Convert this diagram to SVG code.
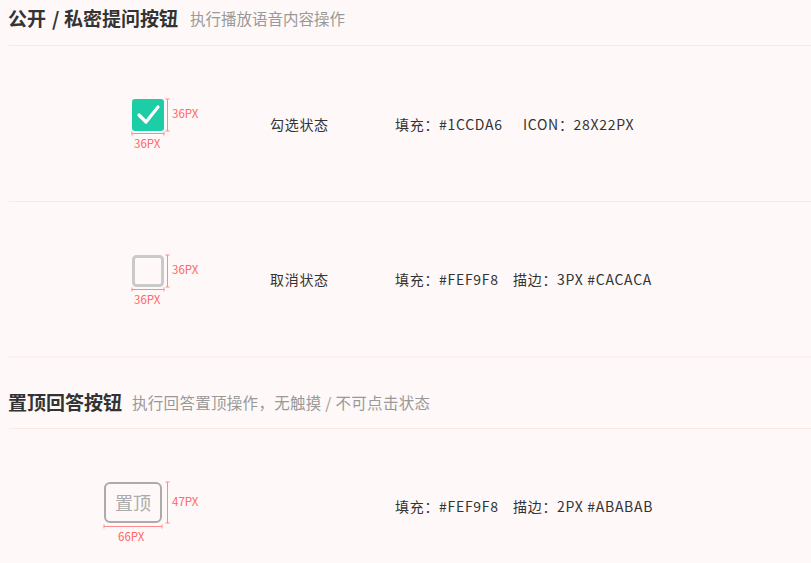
<svg xmlns="http://www.w3.org/2000/svg" width="811" height="563" viewBox="0 0 811 563">
<style>
text{font-family:"Noto Sans CJK SC","Noto Sans",sans-serif}
.title{font-size:19px;font-weight:bold;fill:#333}
.sub{font-size:15.5px;fill:#999}
.lbl{font-size:14px;fill:#333;letter-spacing:0.7px}
.dimt{font-size:11.5px;fill:#FF6666}
.sep{stroke:#FBE8E5;stroke-width:1.2}
.dim{stroke:#FF8A8A;stroke-width:1;fill:none}
</style>
<rect width="811" height="563" fill="#FEF9F8"/>
<g id="separators">
<line class="sep" x1="9" y1="45.5" x2="811" y2="45.5"/>
<line class="sep" x1="9" y1="201.5" x2="811" y2="201.5"/>
<line class="sep" x1="9" y1="357" x2="811" y2="357"/>
<line class="sep" x1="9" y1="428.5" x2="811" y2="428.5"/>
</g>
<g id="heading1">
<text class="title" y="26"><tspan x="8">公开</tspan><tspan x="52">/</tspan><tspan x="64">私密提问按钮</tspan></text>
<text class="sub" x="190" y="25">执行播放语音内容操作</text>
</g>
<g id="checked">
<rect x="132" y="99" width="32" height="32" rx="3" fill="#1CCDA6"/>
<polyline points="139,115 146,122 158,107" fill="none" stroke="#fff" stroke-width="3.2" stroke-linecap="round" stroke-linejoin="round"/>
<text class="lbl" x="270" y="130">勾选状态</text>
<text class="lbl" y="130"><tspan x="395">填充：#1CCDA6</tspan><tspan x="523">ICON：28X22PX</tspan></text>
</g>
<g id="unchecked">
<rect x="133.5" y="256.5" width="29" height="29" rx="3" fill="#FEF9F8" stroke="#CACACA" stroke-width="3"/>
<text class="lbl" x="270" y="285">取消状态</text>
<text class="lbl" y="285"><tspan x="395">填充：#FEF9F8</tspan><tspan x="513">描边：3PX #CACACA</tspan></text>
</g>
<g id="heading2">
<text class="title" x="8" y="410">置顶回答按钮</text>
<text class="sub" x="132" y="409" style="letter-spacing:0.3px">执行回答置顶操作，无触摸 / 不可点击状态</text>
</g>
<g id="pin">
<rect x="105" y="483" width="56" height="39" rx="5" fill="#FEF9F8" stroke="#ABABAB" stroke-width="2"/>
<text x="133" y="509.5" text-anchor="middle" style="font-size:18px;fill:#ABABAB">置顶</text>
<text class="lbl" y="512"><tspan x="395">填充：#FEF9F8</tspan><tspan x="513">描边：2PX #ABABAB</tspan></text>
</g>
<g id="dimensions">
<path class="dim" d="M167.5,99V131M165.5,99h4M165.5,131h4M132,133.5H164M132,131.5v4M164,131.5v4"/>
<text class="dimt" x="172" y="118">36PX</text>
<text class="dimt" x="134" y="148">36PX</text>
<path class="dim" d="M167.5,255V287M165.5,255h4M165.5,287h4M132,289.5H164M132,287.5v4M164,287.5v4"/>
<text class="dimt" x="172" y="274">36PX</text>
<text class="dimt" x="134" y="304">36PX</text>
<path class="dim" d="M167.5,482V523M165.5,482h4M165.5,523h4M104,526.5H162M104,524.5v4M162,524.5v4"/>
<text class="dimt" x="172" y="506">47PX</text>
<text class="dimt" x="118" y="541">66PX</text>
</g>
</svg>
